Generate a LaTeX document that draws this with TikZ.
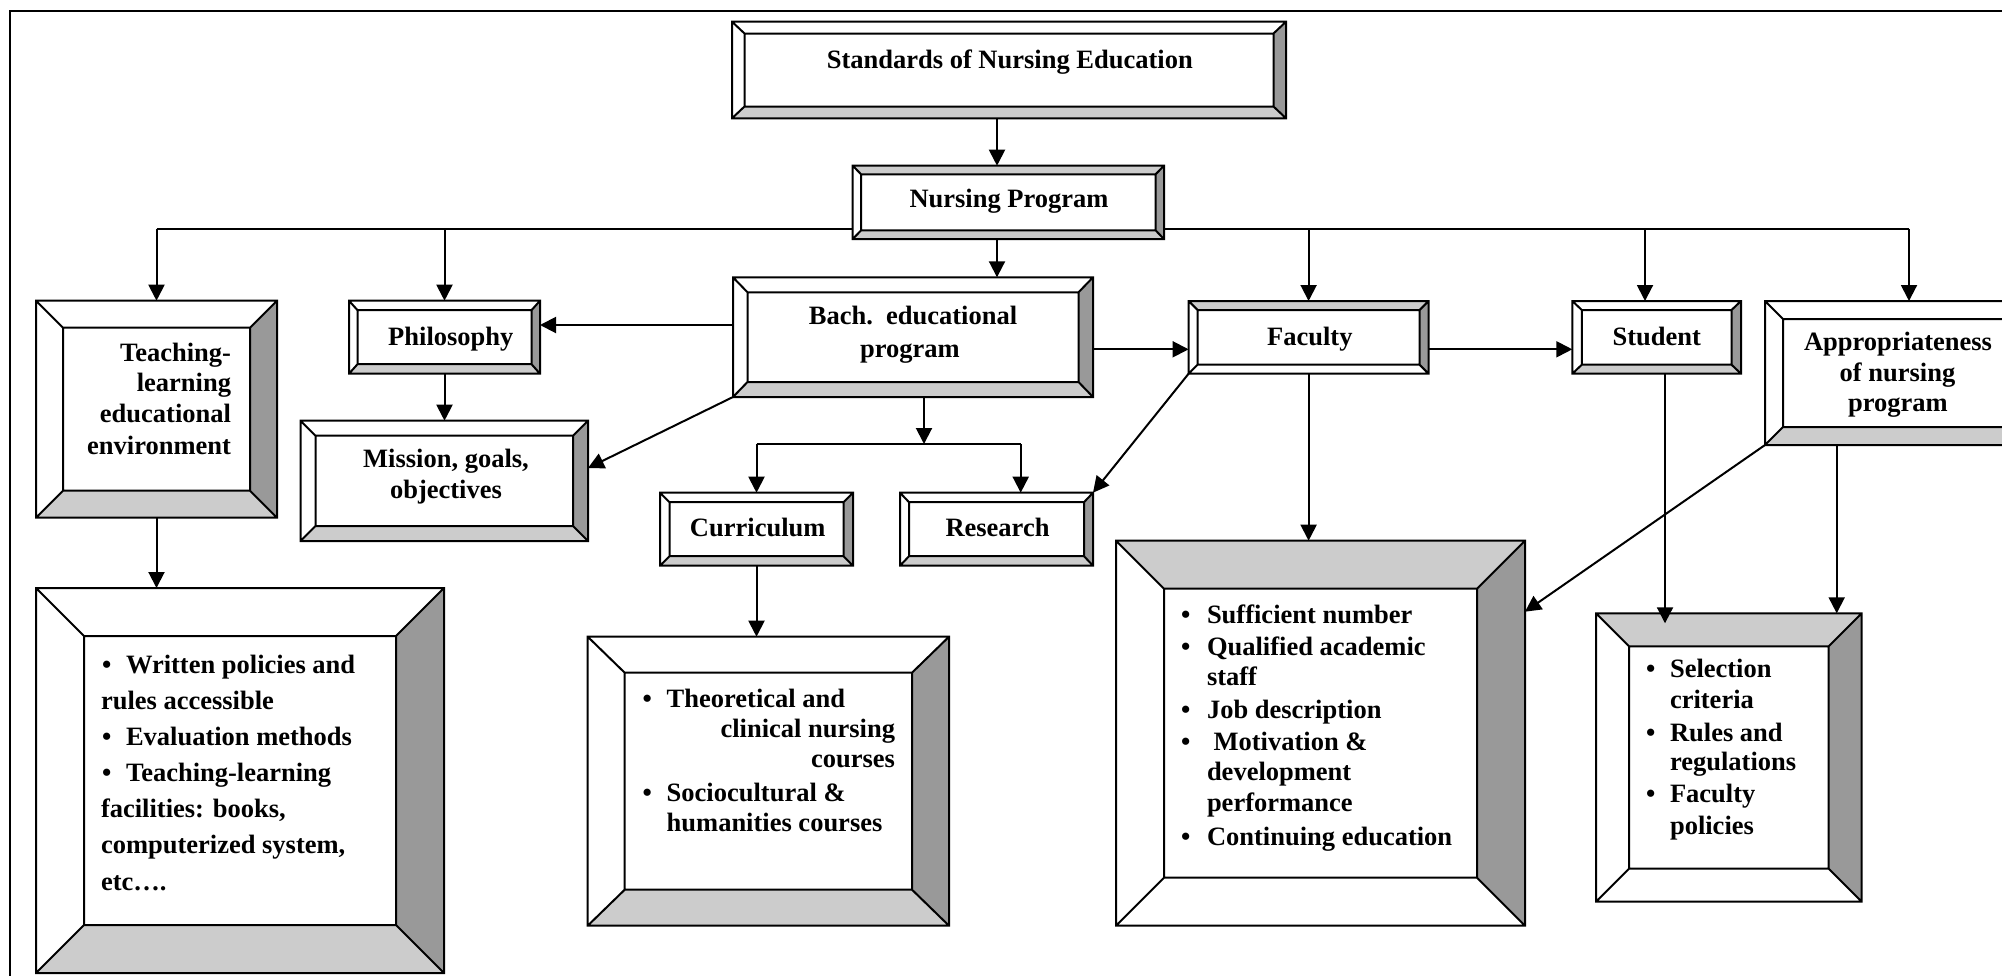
\documentclass[tikz,border=0pt]{standalone}
\usepackage{fontspec}
\setmainfont{Liberation Serif}
\usetikzlibrary{arrows.meta}
\definecolor{lg}{HTML}{CCCCCC}
\definecolor{dg}{HTML}{999999}
\tikzset{
  bx/.style={line width=2pt, line join=miter},
  arr/.style={line width=2pt, -{Triangle[length=16pt,width=16pt]}},
  ln/.style={line width=2pt},
  lbl/.style={inner sep=0pt, outer sep=0pt, font=\bfseries\fontsize{26.5}{31}\selectfont},
}
% name, x1, y1, x2, y2, bevel-h, bevel-v, top fill, bottom fill
\newcommand\bevbox[9]{%
  \pgfmathsetmacro\bxa{#2+#6}\pgfmathsetmacro\bxb{#4-#6}%
  \pgfmathsetmacro\bya{#3+#7}\pgfmathsetmacro\byb{#5-#7}%
  \pgfmathsetmacro\bw{#4-#2}\pgfmathsetmacro\bh{#5-#3}%
  \node[inner sep=0pt, outer sep=0pt, minimum width=\bw pt, minimum height=\bh pt, anchor=north west] (#1) at (#2,#3) {};
  \fill[white] (#2,#3) rectangle (#4,#5);
  \fill[#8] (#2,#3) -- (#4,#3) -- (\bxb,\bya) -- (\bxa,\bya) -- cycle;
  \fill[#9] (#2,#5) -- (#4,#5) -- (\bxb,\byb) -- (\bxa,\byb) -- cycle;
  \fill[dg] (#4,#3) -- (#4,#5) -- (\bxb,\byb) -- (\bxb,\bya) -- cycle;
  \draw[bx] (#2,#3) rectangle (#4,#5) (\bxa,\bya) rectangle (\bxb,\byb)
    (#2,#3) -- (\bxa,\bya) (#4,#3) -- (\bxb,\bya) (#2,#5) -- (\bxa,\byb) (#4,#5) -- (\bxb,\byb);
}
\newcommand\tl[4]{\node[lbl,anchor=#1] (#2) at (#3) {#4};}
\begin{document}
\begin{tikzpicture}[x=1pt,y=-1pt]
\useasboundingbox (0,0) rectangle (2002,975);
\clip (0,0) rectangle (2002,975);
\fill[white] (0,0) rectangle (2002,975);
% frame
\draw[ln] (10,990) -- (10,10.7) -- (2020,10.7);
% bus line (behind Nursing Program box)
\coordinate (busL) at (156.5,228.5);
\coordinate (busR) at (1909,228.5);
\draw[ln] (busL) -- (busR);
% boxes
\bevbox{std}{732}{21.7}{1286}{118.3}{12.5}{11.8}{white}{lg}
\bevbox{np}{852.7}{165.7}{1164}{239}{8.5}{8.7}{lg}{lg}
\bevbox{teach}{36}{300.7}{277}{517.7}{27}{27}{white}{lg}
\bevbox{phil}{349}{300.7}{540}{373.7}{8.5}{9.5}{white}{lg}
\bevbox{mis}{300.5}{420.7}{588}{541}{15}{15}{white}{lg}
\bevbox{bach}{733}{277.3}{1093}{397}{14.5}{15}{white}{lg}
\bevbox{cur}{660}{492.7}{853}{565.7}{9.5}{9.5}{white}{lg}
\bevbox{res}{900}{492.7}{1093}{565.7}{9}{9.5}{white}{lg}
\bevbox{fac}{1188.6}{301}{1428.6}{373.7}{9}{9}{lg}{white}
\bevbox{stu}{1572.3}{301}{1741}{373.7}{9.5}{9}{white}{lg}
\bevbox{app}{1765}{301}{2031}{445}{18}{18}{white}{lg}
\bevbox{wr}{36}{588}{444}{973}{48}{48}{white}{lg}
\bevbox{th}{587.7}{636.7}{949}{925.7}{37}{36}{white}{lg}
\bevbox{fb}{1116}{540.7}{1525}{925.7}{48}{48}{lg}{white}
\bevbox{sel}{1596}{613.3}{1861.7}{901.7}{33}{33}{lg}{white}
% helper coordinates
\coordinate (xa) at (997,0);
\coordinate (xst) at (1645,0);
\coordinate (ya) at (0,325);
\coordinate (yb) at (0,349.3);
\coordinate (ym) at (0,468);
\coordinate (xb) at (924,0);
\coordinate (jn) at (0,444);
\coordinate (xr) at (1020.7,0);
\coordinate (xs) at (1665,0);
\coordinate (ysel) at (0,623.3);
\coordinate (xap) at (1836.7,0);
\coordinate (yf) at (0,611.7);
% connectors
\draw[arr] (std.south -| xa) -- (np.north -| xa);
\draw[arr] (np.south -| xa) -- (bach.north -| xa);
\draw[arr] (busL) -- (teach.north -| busL);
\draw[arr] (phil.north |- busL) -- (phil.north);
\draw[arr] (fac.north |- busL) -- (fac.north);
\draw[arr] (xst |- busL) -- (stu.north -| xst);
\draw[arr] (busR) -- (app.north -| busR);
\draw[arr] (bach.west |- ya) -- (phil.east |- ya);
\draw[arr] (bach.east |- yb) -- (fac.west |- yb);
\draw[arr] (fac.east |- yb) -- (stu.west |- yb);
\draw[arr] (bach.south west) -- (mis.east |- ym);
\draw[arr] (phil.south) -- (mis.north -| phil.south);
\draw[arr] (bach.south -| xb) -- (xb |- jn);
\draw[ln] (cur.north |- jn) -- (xr |- jn);
\draw[arr] (cur.north |- jn) -- (cur.north);
\draw[arr] (xr |- jn) -- (res.north -| xr);
\draw[arr] (cur.south) -- (th.north -| cur.south);
\draw[arr] (fac.south west) -- (res.north east);
\draw[arr] (fac.south) -- (fb.north -| fac.south);
\draw[arr] (teach.south) -- (wr.north -| teach.south);
\draw[arr] (stu.south -| xs) -- (xs |- ysel);
\draw[arr] (app.south -| xap) -- (sel.north -| xap);
\draw[arr] (app.south west) -- (fb.east |- yf);
% texts
\tl{base}{t-std}{1009.8,68}{Standards of Nursing Education}
\tl{base}{t-np}{1009,207.3}{Nursing Program}
\tl{base east}{t-te1}{231,361}{Teaching-}
\tl{base east}{t-te2}{231,391}{learning}
\tl{base east}{t-te3}{231,422.5}{educational}
\tl{base east}{t-te4}{231,454}{environment}
\tl{base}{t-ph}{450.8,345}{Philosophy}
\tl{base}{t-mi1}{446,467.5}{Mission, goals,}
\tl{base}{t-mi2}{446,498}{objectives}
\tl{base}{t-ba1}{913,324}{Bach.\ \ educational}
\tl{base}{t-ba2}{910,357}{program}
\tl{base}{t-cu}{757.7,536.7}{Curriculum}
\tl{base}{t-re}{997.5,536.7}{Research}
\tl{base}{t-fa}{1309.8,345}{Faculty}
\tl{base}{t-st}{1656.7,345}{Student}
\tl{base}{t-ap1}{1898,350.7}{Appropriateness}
\tl{base}{t-ap2}{1897.5,381.7}{of nursing}
\tl{base}{t-ap3}{1897.8,411.7}{program}
% written box
\tl{base}{b-wr1}{106.7,673.3}{\textbullet}
\tl{base}{b-wr2}{106.7,745.7}{\textbullet}
\tl{base}{b-wr3}{106.7,781.7}{\textbullet}
\tl{base west}{t-wr1}{126,673.3}{Written policies and}
\tl{base west}{t-wr2}{101,709}{rules accessible}
\tl{base west}{t-wr3}{126,745.7}{Evaluation methods}
\tl{base west}{t-wr4}{126,781.7}{Teaching-learning}
\tl{base west}{t-wr5}{101,817.7}{facilities: books,}
\tl{base west}{t-wr6}{101,853.3}{computerized system,}
\tl{base west}{t-wr7}{101,890}{etc….}
% theoretical box
\tl{base}{b-th1}{647.3,707.3}{\textbullet}
\tl{base}{b-th2}{647.3,801}{\textbullet}
\tl{base west}{t-th1}{666.7,707.3}{Theoretical and}
\tl{base east}{t-th2}{895,737.3}{clinical nursing}
\tl{base east}{t-th3}{895,767.7}{courses}
\tl{base west}{t-th4}{666.7,801}{Sociocultural \&}
\tl{base west}{t-th5}{666.7,831.7}{humanities courses}
% faculty big box
\tl{base}{b-fb1}{1185.7,623.3}{\textbullet}
\tl{base}{b-fb2}{1185.7,655}{\textbullet}
\tl{base}{b-fb3}{1185.7,718.3}{\textbullet}
\tl{base}{b-fb4}{1185.7,750}{\textbullet}
\tl{base}{b-fb5}{1185.7,845}{\textbullet}
\tl{base west}{t-fb1}{1207,623.3}{Sufficient number}
\tl{base west}{t-fb2}{1207,655}{Qualified academic}
\tl{base west}{t-fb3}{1207,685}{staff}
\tl{base west}{t-fb4}{1207,718.3}{Job description}
\tl{base west}{t-fb5}{1213.6,750}{Motivation \&}
\tl{base west}{t-fb6}{1207,780.7}{development}
\tl{base west}{t-fb7}{1207,811.7}{performance}
\tl{base west}{t-fb8}{1207,845}{Continuing education}
% selection box
\tl{base}{b-se1}{1650.7,677.3}{\textbullet}
\tl{base}{b-se2}{1650.7,741}{\textbullet}
\tl{base}{b-se3}{1650.7,802.7}{\textbullet}
\tl{base west}{t-se1}{1670,677.3}{Selection}
\tl{base west}{t-se2}{1670,708.3}{criteria}
\tl{base west}{t-se3}{1670,741}{Rules and}
\tl{base west}{t-se4}{1670,770.7}{regulations}
\tl{base west}{t-se5}{1670,802.7}{Faculty}
\tl{base west}{t-se6}{1670,834}{policies}
\end{tikzpicture}
\end{document}
